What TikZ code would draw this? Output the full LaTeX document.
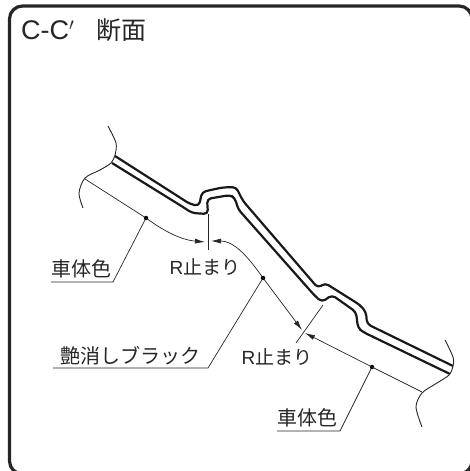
\documentclass[tikz,border=0pt]{standalone}
\usepackage{fontspec}
\setmainfont{Liberation Sans}
\newfontfamily\cjk{Noto Sans CJK JP}
\usetikzlibrary{arrows.meta, positioning}
\begin{document}
\begin{tikzpicture}[
    x=1pt, y=-1pt,
    frame/.style={draw=black!85, line width=3.2pt, rounded corners=13pt},
    body/.style={draw=black!90, line width=2.2pt, line join=round, rounded corners=4pt},
    breakline/.style={draw=black!85, line width=0.9pt},
    thin line/.style={draw=black!85, line width=0.7pt},
    dim line/.style={thin line, -{Latex[length=10pt, width=5pt]}},
    dotmark/.style={circle, fill=black, inner sep=0pt, minimum size=4.5pt},
    label/.style={font=\cjk\fontsize{20}{24}\selectfont, text=black!85, inner sep=0pt, anchor=center},
    rlabel/.style={font=\fontsize{19}{22}\selectfont, text=black!85, inner sep=0pt, anchor=center}
]
    \useasboundingbox[clip] (0,0) rectangle (470,471);
    % Outer frame, cut by the page on the right and at the bottom
    \draw[frame] (9.5,6) rectangle (472,474);
    \node[font=\fontsize{27}{30}\selectfont, text=black!85, inner sep=0pt, anchor=west] (title) at (21,30) {C-C$'$};
    \node[font=\cjk\fontsize{25}{28}\selectfont, text=black!85, inner sep=0pt, anchor=west] (titlecjk) at (96,30) {断面};

    % Panel section
    \draw[body] (115,156) -- (190,204) -- (199,206) -- (202,192) -- (222,187.5) -- (236,187) -- (243,201) -- (318,288) -- (325,283) -- (360,305) -- (366,312) -- (367,324) -- (453,366);
    \draw[body] (112,163) -- (183,207) -- (192,213) -- (208,214) -- (207,199) -- (230,195) -- (235,198) -- (238,209) -- (315,296) -- (322,302) -- (332,295) -- (356,312) -- (358,328) -- (363,332) -- (450,374);

    % Break lines
    \draw[breakline] plot[smooth] coordinates {(108,126) (116,143) (115,155) (111,163) (100,170) (85,178) (79,193) (83,208)};
    \draw[breakline] plot[smooth] coordinates {(445,340) (453,357) (453,366) (449,375) (437,383) (422,393) (416,407) (422,427)};

    % Marks on the surface
    \node[dotmark] (dotleft) at (146,218) {};
    \node[dotmark] (dotmid) at (263,278) {};
    \node[dotmark] (dotright) at (372,367) {};

    % Extents of the colours
    \coordinate (breakleft) at (85,179);
    \coordinate (breakright) at (422,392);
    \coordinate (tipa) at (205,242);
    \coordinate (tipb) at (211,241);
    \coordinate (tipc) at (302,330);
    \coordinate (tipd) at (305,333);
    \draw[thin line] (breakleft) -- (dotleft);
    \draw[dim line] (dotleft.center) .. controls (165,232) and (182,240) .. (tipa);
    \draw[dim line] (dotmid.center) .. controls (245,252) and (232,241) .. (tipb);
    \draw[dim line] (dotmid.center) -- (tipc);
    \draw[dim line] (breakright) -- (dotright.center) -- (tipd);

    % Ticks at the stops
    \coordinate (ticka1) at (208,214);
    \coordinate (ticka2) at (208,250);
    \coordinate (tickb1) at (323,305);
    \coordinate (tickb2) at (296,343);
    \draw[thin line] (ticka1) -- (ticka2);
    \draw[thin line] (tickb1) -- (tickb2);

    % Labels with leaders
    \node[label] (bodyleft) at (81,269) {車体色};
    \node[label] (black) at (130,356) {艶消しブラック};
    \node[label] (bodyright) at (307,418) {車体色};
    \node[rlabel] (stopa) at (205,267) {R{\cjk 止まり}};
    \node[rlabel] (stopb) at (277,357) {R{\cjk 止まり}};
    \coordinate (leadleft) at (113,282);
    \coordinate (leadmid) at (208,368);
    \coordinate (leadright) at (340,431);
    \draw[thin line] (51,282) -- (leadleft) -- (dotleft);
    \draw[thin line] (53,368) -- (leadmid) -- (dotmid);
    \draw[thin line] (277,431) -- (leadright) -- (dotright);
\end{tikzpicture}
\end{document}
